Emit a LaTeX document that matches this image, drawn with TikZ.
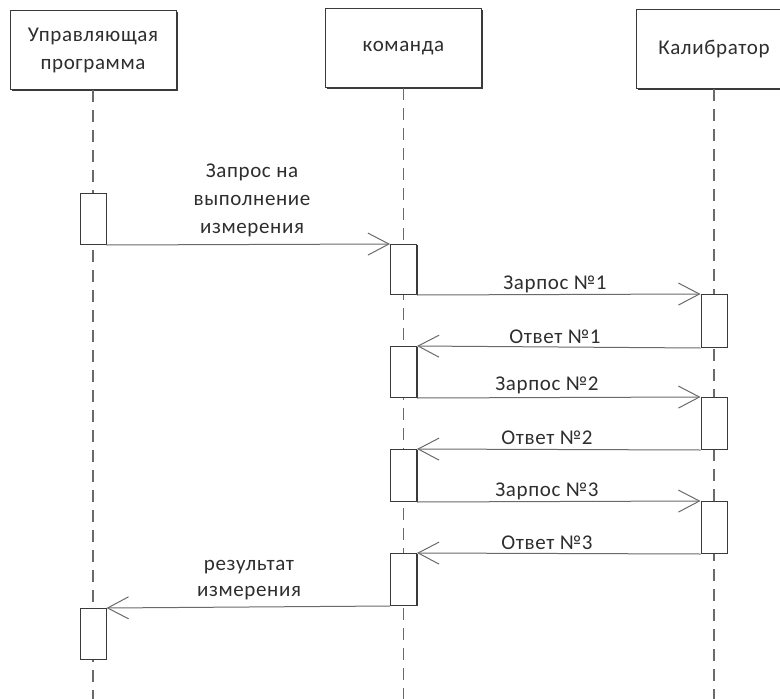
\documentclass[tikz,border=0pt]{standalone}
\usepackage{fontspec}
\setmainfont{Carlito}[LetterSpace=3]
\usetikzlibrary{arrows.meta,shadows}
\definecolor{txt}{HTML}{2E2E2E}
\definecolor{brd}{HTML}{3A3A3A}
\definecolor{ln}{HTML}{6A6A6A}
\begin{document}
\begin{tikzpicture}[x=1pt,y=-1pt,
  font=\fontsize{21}{28}\selectfont, text=txt,
  headbox/.style={draw=brd, line width=0.9pt, fill=white, minimum width=166pt, minimum height=79pt, align=center, inner sep=0pt,
    drop shadow={shadow xshift=1.6pt, shadow yshift=-1.6pt, fill=brd, opacity=1}},
  act/.style={draw=brd, line width=1pt, fill=white, minimum width=26pt, inner sep=0pt, anchor=north,
    drop shadow={shadow xshift=1.4pt, shadow yshift=0pt, fill=brd, opacity=1}},
  life/.style={draw=ln, line width=1.1pt, dash pattern=on 12pt off 8pt},
  msg/.style={draw=ln, line width=1pt, -{Straight Barb[length=21pt,width=22pt,line width=1pt]}},
  lbl/.style={align=center, inner sep=0pt}]
\useasboundingbox (0,0) rectangle (780,699);
\begin{scope}
\clip (0,0) rectangle (780,699);
% lifeline ends
\coordinate (e1) at (93,699);
\coordinate (e2) at (403.5,699);
\coordinate (e3) at (714,699);
% head boxes
\node[headbox, minimum width=166pt] (up) at (93,50) {Управляющая\\программа};
\node[headbox, minimum width=156pt] (cmd) at (403.5,48) {команда};
\node[headbox, minimum width=156pt] (cal) at (714,49) {Калибратор};
% lifelines
\draw[life] (up.south) -- (e1);
\draw[life] (cmd.south) -- (e2);
\draw[life] (cal.south) -- (e3);
% activations
\node[act, minimum height=51pt] (la1) at (93,193) {};
\node[act, minimum height=51pt] (la2) at (93,608) {};
\node[act, minimum height=50pt] (ma1) at (403.5,244) {};
\node[act, minimum height=51pt] (ma2) at (403.5,346) {};
\node[act, minimum height=52pt] (ma3) at (403.5,449) {};
\node[act, minimum height=52pt] (ma4) at (403.5,553) {};
\node[act, minimum height=53pt] (ra1) at (714,294) {};
\node[act, minimum height=52pt] (ra2) at (714,397) {};
\node[act, minimum height=52pt] (ra3) at (714,501) {};
\end{scope}
% messages
\draw[msg] (la1.south east) -- (ma1.north west);
\draw[msg] (ma1.south east) -- (ra1.north west);
\draw[msg] (ra1.south west) -- (ma2.north east);
\draw[msg] (ma2.south east) -- (ra2.north west);
\draw[msg] (ra2.south west) -- (ma3.north east);
\draw[msg] (ma3.south east) -- (ra3.north west);
\draw[msg] (ra3.south west) -- (ma4.north east);
\draw[msg] (ma4.south west) -- (la2.north east);
% labels
\node[lbl] (t1) at (252,200) {Запрос на\\выполнение\\измерения};
\node[lbl] (t2) at (555,284) {Зарпос №1};
\node[lbl] (t3) at (555,337) {Ответ №1};
\node[lbl] (t4) at (547,385) {Зарпос №2};
\node[lbl] (t5) at (547,438) {Ответ №2};
\node[lbl] (t6) at (547,491) {Зарпос №3};
\node[lbl] (t7) at (547,543) {Ответ №3};
\node[lbl, font=\fontsize{21}{26}\selectfont] (t8) at (249,580) {результат\\измерения};
\end{tikzpicture}
\end{document}
